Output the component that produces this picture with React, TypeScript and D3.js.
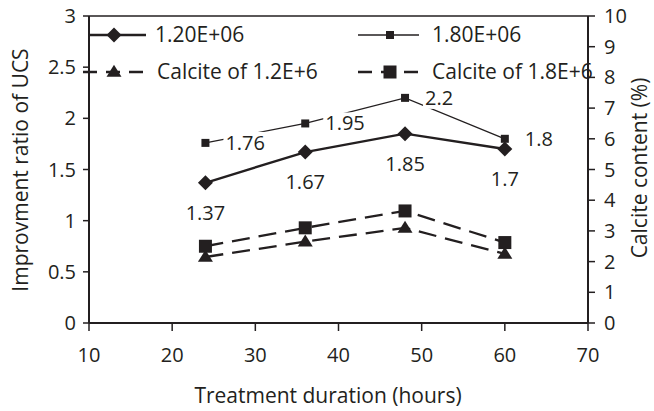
import React from "react";
import * as d3 from "d3";

const hours = [24, 36, 48, 60];
const ucs12 = [1.37, 1.67, 1.85, 1.7];
const ucs18 = [1.76, 1.95, 2.2, 1.8];
const calcite12 = [2.15, 2.65, 3.1, 2.25];
const calcite18 = [2.5, 3.1, 3.65, 2.62];
const xTicks = [10, 20, 30, 40, 50, 60, 70];
const yLeftTicks = [0, 0.5, 1, 1.5, 2, 2.5, 3];
const yRightTicks = [0, 1, 2, 3, 4, 5, 6, 7, 8, 9, 10];
const legendLabels = ["1.20E+06", "1.80E+06", "Calcite of 1.2E+6", "Calcite of 1.8E+6"];
const xTitle = "Treatment duration (hours)";
const yLeftTitle = "Improvment ratio of UCS";
const yRightTitle = "Calcite content (%)";

const W = 654;
const H = 411;
const C = "#231f20";
const FONT = "'Open Sans', sans-serif";

const x = d3.scaleLinear().domain([10, 70]).range([89, 588]);
const yL = d3.scaleLinear().domain([0, 3]).range([323, 16]);
const yR = d3.scaleLinear().domain([0, 10]).range([323, 16]);

function Diamond({ cx, cy, r = 7.5 }: { cx: number; cy: number; r?: number }) {
  return <path d={`M${cx},${cy - r}L${cx + r},${cy}L${cx},${cy + r}L${cx - r},${cy}Z`} fill={C} />;
}
function Square({ cx, cy, s }: { cx: number; cy: number; s: number }) {
  return <rect x={cx - s / 2} y={cy - s / 2} width={s} height={s} fill={C} />;
}
function Tri({ cx, cy }: { cx: number; cy: number }) {
  const w = 7.5, h = 12;
  return <path d={`M${cx},${cy - h * 0.6}L${cx + w},${cy + h * 0.4}L${cx - w},${cy + h * 0.4}Z`} fill={C} />;
}

export default function App() {
  const line = (ys: number[], sc: d3.ScaleLinear<number, number>) =>
    d3.line<number>().x((_, i) => x(hours[i])).y((v) => sc(v))(ys) || "";

  const labelW = (s: string) => s.length * 10.8 + 2;

  return (
    <svg width={W} height={H} style={{ position: "absolute", left: 0, top: 0, background: "#fff" }} fontFamily={FONT}>
      <rect x={0} y={0} width={W} height={H} fill="#fff" />
      {/* axes frame */}
      <line x1={x(10)} x2={x(70)} y1={yL(3)} y2={yL(3)} stroke={C} strokeWidth={1.5} />
      <line x1={x(10)} x2={x(70)} y1={yL(0)} y2={yL(0)} stroke={C} strokeWidth={2} />
      <line x1={x(10)} x2={x(10)} y1={yL(3)} y2={yL(0)} stroke={C} strokeWidth={2} />
      <line x1={x(70)} x2={x(70)} y1={yL(3)} y2={yL(0)} stroke={C} strokeWidth={2} />
      {xTicks.map((t) => (
        <g key={"xt" + t}>
          <line x1={x(t)} x2={x(t)} y1={yL(0)} y2={yL(0) + 8} stroke={C} strokeWidth={1.5} />
          <text x={x(t)} y={355} dy="0.35em" textAnchor="middle" fontSize={20} fill={C}>{t}</text>
        </g>
      ))}
      {yLeftTicks.map((t) => (
        <g key={"yl" + t}>
          <line x1={x(10) - 6} x2={x(10)} y1={yL(t)} y2={yL(t)} stroke={C} strokeWidth={1.5} />
          <text x={76} y={yL(t)} dy="0.35em" textAnchor="end" fontSize={20} fill={C}>{t}</text>
        </g>
      ))}
      {yRightTicks.map((t) => (
        <g key={"yr" + t}>
          <line x1={x(70)} x2={x(70) + 7} y1={yR(t)} y2={yR(t)} stroke={C} strokeWidth={1.5} />
          <text x={604} y={yR(t)} dy="0.35em" textAnchor="start" fontSize={20} fill={C}>{t}</text>
        </g>
      ))}
      <text x={328} y={403} textAnchor="middle" fontSize={21} fill={C}>{xTitle}</text>
      <text transform="translate(28,170) rotate(-90)" textAnchor="middle" fontSize={21} fill={C}>{yLeftTitle}</text>
      <text transform="translate(647,168) rotate(-90)" textAnchor="middle" fontSize={21} fill={C}>{yRightTitle}</text>

      {/* series lines */}
      <path d={line(calcite12, yR)} fill="none" stroke={C} strokeWidth={2.3} strokeDasharray="18,9" />
      <path d={line(calcite18, yR)} fill="none" stroke={C} strokeWidth={2.3} strokeDasharray="18,9" />
      <path d={line(ucs12, yL)} fill="none" stroke={C} strokeWidth={2.4} />
      <path d={line(ucs18, yL)} fill="none" stroke={C} strokeWidth={1.3} />

      {/* markers */}
      {calcite12.map((v, i) => <Tri key={"t" + i} cx={x(hours[i])} cy={yR(v)} />)}
      {calcite18.map((v, i) => <Square key={"bs" + i} cx={x(hours[i])} cy={yR(v)} s={13} />)}
      {ucs12.map((v, i) => <Diamond key={"d" + i} cx={x(hours[i])} cy={yL(v)} />)}
      {ucs18.map((v, i) => <Square key={"s" + i} cx={x(hours[i])} cy={yL(v)} s={8} />)}

      {/* data labels */}
      {ucs12.map((v, i) => (
        <text key={"l12" + i} x={x(hours[i])} y={yL(v) + 30} dy="0.35em" textAnchor="middle" fontSize={20} fill={C}>{v}</text>
      ))}
      {ucs18.map((v, i) => {
        const s = String(v);
        const lx = x(hours[i]) + 20;
        return (
          <g key={"l18" + i}>
            <rect x={lx - 2} y={yL(v) - 11} width={labelW(s)} height={22} fill="#fff" />
            <text x={lx} y={yL(v)} dy="0.35em" textAnchor="start" fontSize={20} fill={C}>{s}</text>
          </g>
        );
      })}

      {/* legend */}
      <g>
        <line x1={89} x2={146} y1={35} y2={35} stroke={C} strokeWidth={2.4} />
        <Diamond cx={114} cy={35} />
        <text x={155} y={35} dy="0.35em" fontSize={21} fill={C}>{legendLabels[0]}</text>

        <line x1={358} x2={419} y1={35} y2={35} stroke={C} strokeWidth={1.3} />
        <Square cx={390} cy={35} s={8} />
        <text x={432} y={35} dy="0.35em" fontSize={21} fill={C}>{legendLabels[1]}</text>

        <line x1={83} x2={148} y1={72} y2={72} stroke={C} strokeWidth={2.3} strokeDasharray="14,9" />
        <Tri cx={114} cy={72} />
        <text x={157} y={72} dy="0.35em" fontSize={21} fill={C}>{legendLabels[2]}</text>

        <line x1={358} x2={420} y1={72} y2={72} stroke={C} strokeWidth={2.3} strokeDasharray="14,9" />
        <Square cx={390} cy={72} s={13} />
        <text x={432} y={72} dy="0.35em" fontSize={21} fill={C}>{legendLabels[3]}</text>
      </g>
    </svg>
  );
}
